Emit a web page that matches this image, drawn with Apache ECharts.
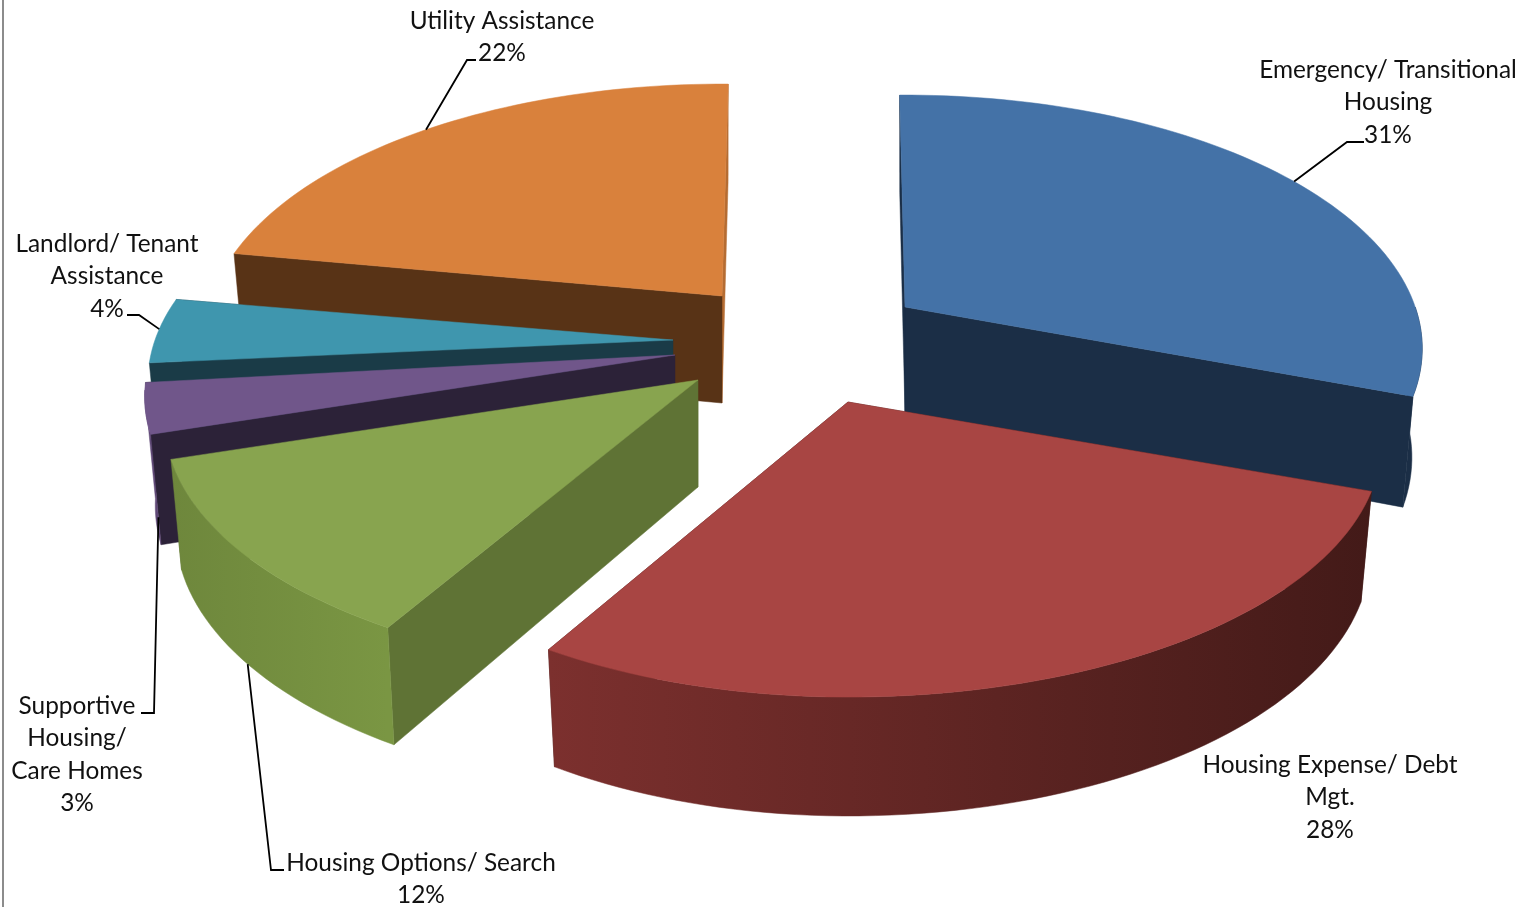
<!DOCTYPE html>
<html><head><meta charset="utf-8">
<style>html,body{margin:0;padding:0;background:#fff}#c{width:1528px;height:907px}</style>
<script src="https://cdn.jsdelivr.net/npm/echarts@6/dist/echarts.min.js"></script>
</head><body><div id="c"></div>
<script>
// --- data (shares; labels show them rounded) ---
const categories = ['Emergency/ Transitional Housing','Housing Expense/ Debt Mgt.','Housing Options/ Search','Supportive Housing/ Care Homes','Landlord/ Tenant Assistance','Utility Assistance'];
const values = [30.75,27.9,11.6,3.2,4.16,22.39];
// --- style and layout ---
const labelLines = [['Emergency/ Transitional','Housing'],['Housing Expense/ Debt','Mgt.'],['Housing Options/ Search'],['Supportive','Housing/','Care Homes'],['Landlord/ Tenant','Assistance'],['Utility Assistance']];
const labelCentres = [[1388,70],[1330,765],[421,863],[77,706],[107,244],[502,21]];
const apexes = [[905,307],[848,402],[698,380],[675,355],[673,340],[722,296]];
const xScales = [[.985,.985],[1.015,.98],[1,1.015],[1,1.01],[1,1],[1,.985]];
const spin = [0,0,0,0,1.04,1.5];
const topColors = ['#4472A7','#A84543','#88A44F','#70568A','#3F96AE','#D9813C'];
const startFace = ['#1B2E46','#431B19','#5F7335','#2C2238','#1A3B47','#583316'];
const endFace = ['#1B2E46','#431B19','#5F7335','#2C2238','#1A3B47','#B56C32'];
const rimColors = [['#1B2E46','#1B2E46'],['#7C302E','#431A18'],['#6E873C','#7A9643'],['#5F4876','#5F4876'],['#1A3B47','#1A3B47'],['#B56C32','#B56C32']];
const paintOrder = [5,0,4,3,2,1];
// leader: fraction along slice rim, fraction down the rim wall, elbow point, end point beside the label
const leaders = [
 {t:.515,f:0,elbow:[1347,142],end:[1364,142]},
 null,
 {t:.51,f:1,elbow:[271,870],end:[284,870]},
 {t:0,f:.75,elbow:[154,713],end:[141,713]},
 {t:.52,f:0,elbow:[139,315],end:[127,315]},
 {t:.485,f:0,elbow:[467,60],end:[476,60]}
];
const ROT=-0.7, A=518, B=246.7, K=0.164, DEPTH=107, SHRINK=.98, FONT=24.4, LH=32.5;
const RIM_FROM=90, RIM_TO=262;
const FF='Lato, "Open Sans", sans-serif';
const total = values.reduce((a,b)=>a+b,0);
const starts = values.map((_,i)=>ROT+spin[i]+values.slice(0,i).reduce((a,b)=>a+b,0)/total*360);
function proj(i,deg,bottom){
  const t=deg*Math.PI/180,u=Math.sin(t),v=Math.cos(t),w=1+K*v;
  let x=A*u/w*(u>=0?xScales[i][0]:xScales[i][1]),y=-B*v/w;
  if(bottom){x*=SHRINK;y+=DEPTH/(1+.1*v);}
  return [apexes[i][0]+x,apexes[i][1]+y];
}
function arc(i,a0,a1,bottom){
  const n=Math.max(8,Math.ceil(Math.abs(a1-a0)/1.5)),r=[];
  for(let k=0;k<=n;k++)r.push(proj(i,a0+(a1-a0)*k/n,bottom));
  return r;
}
function poly(points,fill,z){return {type:'polygon',shape:{points},style:{fill,stroke:fill,lineWidth:.5},z2:z};}
function sliceEls(i){
  const a0=starts[i],a1=a0+values[i]/total*360,ap=apexes[i];
  const apB=[ap[0],ap[1]+DEPTH];
  const els=[];
  els.push(poly([ap,proj(i,a1),proj(i,a1,true),apB],endFace[i],1));
  els.push(poly([ap,proj(i,a0),proj(i,a0,true),apB],startFace[i],2));
  // only the front part of the rim wall can be seen
  const r0=Math.max(a0,RIM_FROM),r1=Math.min(a1,RIM_TO);
  const top=arc(i,a0,a1);
  if(r1>r0){
    const rt=arc(i,r0,r1),rb=arc(i,r0,r1,true).reverse();
    const xs=rt.map(p=>p[0]);
    els.push(poly(rt.concat(rb),{type:'linear',global:true,x:Math.min(...xs),y:0,x2:Math.max(...xs),y2:0,
      colorStops:[{offset:0,color:rimColors[i][0]},{offset:1,color:rimColors[i][1]}]},3));
  }
  els.push(poly([ap].concat(top),topColors[i],4));
  return els;
}
function leaderEl(i){
  const l=leaders[i]; if(!l) return [];
  const deg=starts[i]+l.t*values[i]/total*360;
  const a=proj(i,deg),b=proj(i,deg,true);
  const p=[a[0]+(b[0]-a[0])*l.f,a[1]+(b[1]-a[1])*l.f];
  return [{type:'polyline',shape:{points:[p,l.elbow,l.end]},style:{stroke:'#000',lineWidth:1.8,fill:null},z2:6}];
}
function labelEl(i){
  const lines=labelLines[i].concat([Math.round(values[i])+'%']),c=labelCentres[i];
  return lines.map((s,k)=>({type:'text',style:{text:s,x:c[0],y:c[1]+k*LH,align:'center',verticalAlign:'middle',
    font:FONT+'px '+FF,fill:'#111'},z2:7}));
}
const chart=echarts.init(document.getElementById('c'),null,{renderer:'canvas'});
chart.setOption({
  animation:false,
  backgroundColor:'#fff',
  graphic:[{type:'rect',shape:{x:2,y:0,width:2,height:907},style:{fill:'#8c8c8c'},silent:true}],
  series:[{
    type:'custom',coordinateSystem:'none',silent:true,
    data:paintOrder.map(i=>({name:categories[i],value:[i,values[i]]})),
    renderItem(params,api){
      const i=api.value(0);
      return {type:'group',children:sliceEls(i)};
    }
  },{
    type:'custom',coordinateSystem:'none',silent:true,z:5,
    data:values.map((v,i)=>({name:categories[i],value:[i,v]})),
    renderItem(params,api){
      const i=api.value(0);
      return {type:'group',children:leaderEl(i).concat(labelEl(i))};
    }
  }]
});
</script></body></html>
